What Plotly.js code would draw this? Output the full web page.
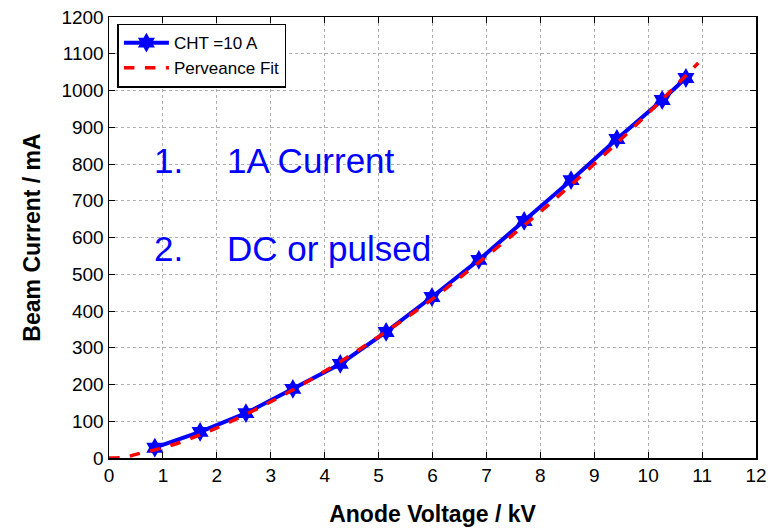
<!DOCTYPE html>
<html><head><meta charset="utf-8">
<script src="https://cdn.plot.ly/plotly-3.0.1.min.js"></script>
<style>body{margin:0;background:#fff}#c{width:783px;height:530px}</style>
</head><body><div id="c"></div>
<script>
const measV = [0.85, 1.69, 2.54, 3.41, 4.29, 5.14, 5.99, 6.86, 7.70, 8.57, 9.42, 10.26, 10.70];
const measI = [28, 71, 122, 188, 256, 343, 438, 539, 645, 756, 868, 974, 1034];
const fitV = [0, 0.3, 0.5, 1, 1.5, 2, 3, 4, 5, 6, 7, 8, 9, 10, 10.93];
const fitI = [0, 2, 10, 28, 52, 82, 153, 236, 330, 433, 549, 670, 800, 938, 1075];
const xTicks = [0,1,2,3,4,5,6,7,8,9,10,11,12];
const yTicks = [0,100,200,300,400,500,600,700,800,900,1000,1100,1200];
const notes = [["1.", "1A Current", 810], ["2.", "DC or pulsed", 570]];

const font = "Liberation Sans, Arial, sans-serif";
const traces = [
  {x: measV, y: measI, name: "CHT =10 A", mode: "lines+markers", type: "scatter",
   line: {color: "#0000ff", width: 4},
   marker: {symbol: "hexagram", size: 15, color: "#0000ff"}},
  {x: fitV, y: fitI, name: "Perveance Fit", mode: "lines", type: "scatter",
   line: {color: "#ff0000", width: 3.5, dash: "dash", shape: "spline"}}
];
const ann = [];
notes.forEach(n => {
  ann.push({x: 0.8, y: n[2], xref: "x", yref: "y", text: n[0], showarrow: false, xanchor: "left",
    font: {family: font, size: 35, color: "#0000ff"}});
  ann.push({x: 2.15, y: n[2], xref: "x", yref: "y", text: n[1], showarrow: false, xanchor: "left",
    font: {family: font, size: 35, color: "#0000ff"}});
});
const axisCommon = {showline: true, linecolor: "#000", linewidth: 1.5, mirror: "ticks",
  ticks: "inside", ticklen: 6, tickcolor: "#000", showgrid: true, gridcolor: "#b0b0b0",
  griddash: "dot", gridwidth: 1, zeroline: false, tickfont: {family: font, size: 19, color: "#000"}};
const layout = {
  width: 783, height: 530, margin: {l: 109, r: 27, t: 17, b: 72},
  paper_bgcolor: "#fff", plot_bgcolor: "#fff",
  xaxis: Object.assign({}, axisCommon, {range: [0, 12], tickvals: xTicks, ticktext: xTicks.map(String),
    title: {text: "<b>Anode Voltage / kV</b>", font: {family: font, size: 23, color: "#000"}, standoff: 20}}),
  yaxis: Object.assign({}, axisCommon, {range: [0, 1200], tickvals: yTicks, ticktext: yTicks.map(String),
    title: {text: "<b>Beam Current / mA</b>", font: {family: font, size: 23, color: "#000"}, standoff: 14}}),
  legend: {x: 0.013, y: 0.985, xanchor: "left", yanchor: "top", bgcolor: "#fff",
    bordercolor: "#000", borderwidth: 1.5, font: {family: font, size: 17, color: "#000"},
    tracegroupgap: 0, itemwidth: 45},
  annotations: ann, showlegend: true
};
Plotly.newPlot("c", traces, layout, {staticPlot: true});
</script></body></html>
